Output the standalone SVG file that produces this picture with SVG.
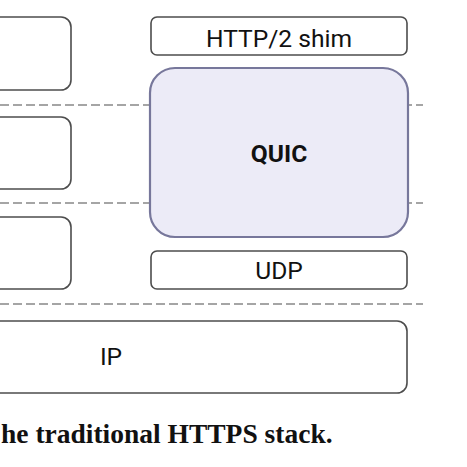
<svg xmlns="http://www.w3.org/2000/svg" width="467" height="467" viewBox="0 0 467 467">
<style>
.box{fill:#ffffff;stroke:#4d4d4d;stroke-width:1.6}
.quic{fill:#ecebf7;stroke:#77779b;stroke-width:2.2}
.dash{stroke:#888888;stroke-width:1.4;stroke-dasharray:9 4;fill:none}
.lbl{font-family:Roboto,"Liberation Sans",sans-serif;font-size:24.6px;fill:#111111;text-anchor:middle}
.bold{font-weight:bold}
.cap{font-family:"Liberation Serif",serif;font-size:27.5px;font-weight:bold;fill:#111111}
</style>
<rect width="467" height="467" fill="#ffffff"/>
<g id="connectors">
<line class="dash" x1="0" y1="105" x2="423" y2="105"/>
<line class="dash" x1="0" y1="203" x2="423" y2="203"/>
<line class="dash" x1="0" y1="304" x2="423" y2="304"/>
</g>
<g id="left1"><rect class="box" x="-20" y="17" width="91" height="73" rx="10"/></g>
<g id="left2"><rect class="box" x="-20" y="117" width="91" height="72" rx="10"/></g>
<g id="left3"><rect class="box" x="-20" y="217" width="91" height="72" rx="10"/></g>
<g id="http2shim"><rect class="box" x="151" y="17" width="256" height="38" rx="6"/><text class="lbl" x="279" y="46.5">HTTP/2 shim</text></g>
<g id="quic"><rect class="quic" x="150" y="68" width="258" height="169" rx="25"/><text class="lbl bold" x="279" y="162">QUIC</text></g>
<g id="udp"><rect class="box" x="151" y="251" width="256" height="38" rx="6"/><text class="lbl" x="279" y="279">UDP</text></g>
<g id="ip"><rect class="box" x="-20" y="321" width="427" height="72" rx="10"/><text class="lbl" x="111" y="365">IP</text></g>
<text class="cap" x="1" y="443">he traditional HTTPS stack.</text>
</svg>
